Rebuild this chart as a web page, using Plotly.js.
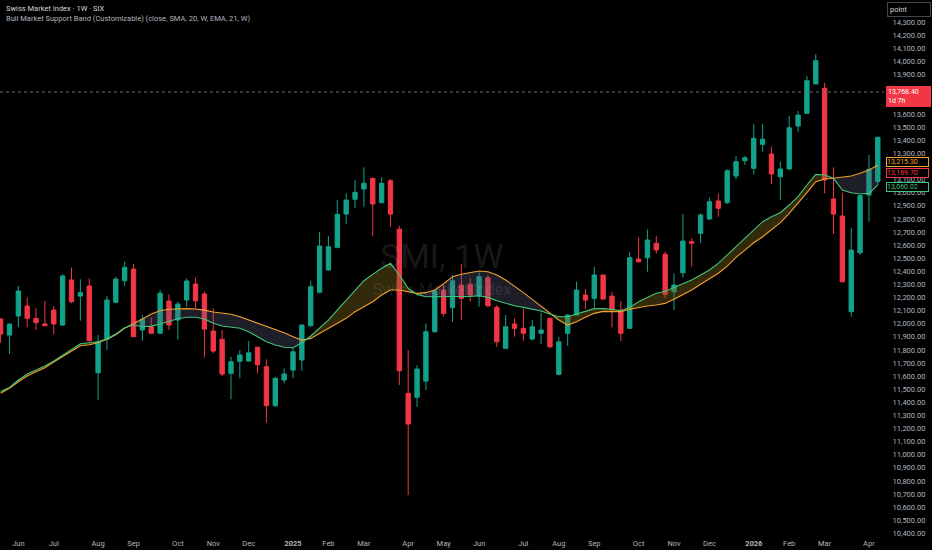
<!DOCTYPE html>
<html><head><meta charset="utf-8">
<script src="https://cdn.plot.ly/plotly-3.0.1.min.js"></script>
<style>html,body{margin:0;padding:0;background:#000;}#chart{width:932px;height:550px;}</style>
</head><body><div id="chart"></div>
<script>
// Weekly bars (Monday of each week)
const weeks = ['2024-05-20','2024-05-27','2024-06-03','2024-06-10','2024-06-17','2024-06-24','2024-07-01','2024-07-08','2024-07-15','2024-07-22','2024-07-29','2024-08-05','2024-08-12','2024-08-19','2024-08-26','2024-09-02','2024-09-09','2024-09-16','2024-09-23','2024-09-30','2024-10-07','2024-10-14','2024-10-21','2024-10-28','2024-11-04','2024-11-11','2024-11-18','2024-11-25','2024-12-02','2024-12-09','2024-12-16','2024-12-23','2024-12-30',
'2025-01-06','2025-01-13','2025-01-20','2025-01-27','2025-02-03','2025-02-10','2025-02-17','2025-02-24','2025-03-03','2025-03-10','2025-03-17','2025-03-24','2025-03-31','2025-04-07','2025-04-14','2025-04-21','2025-04-28','2025-05-05','2025-05-12','2025-05-19','2025-05-26','2025-06-02','2025-06-09','2025-06-16','2025-06-23','2025-06-30','2025-07-07','2025-07-14','2025-07-21','2025-07-28','2025-08-04','2025-08-11','2025-08-18','2025-08-25','2025-09-01','2025-09-08','2025-09-15','2025-09-22','2025-09-29','2025-10-06','2025-10-13','2025-10-20','2025-10-27','2025-11-03','2025-11-10','2025-11-17','2025-11-24','2025-12-01','2025-12-08','2025-12-15','2025-12-22','2025-12-29',
'2026-01-05','2026-01-12','2026-01-19','2026-01-26','2026-02-02','2026-02-09','2026-02-16','2026-02-23','2026-03-02','2026-03-09','2026-03-16','2026-03-23','2026-03-30','2026-04-06','2026-04-13'];

const open  = [12036,11913,12059,12135,12041,11998,12104,11990,12334,12211,12288,11626,11881,12163,12328,12417,11952,11977,11927,12173,12028,12181,12303,12227,11944,11881,11621,11713,11715,11820,11672,11374,11570,11646,11723,11985,12240,12410,12583,12837,12950,13028,13110,12924,13092,12721,11469,11438,11562,11939,12257,12122,12295,12301,12211,12351,12125,11812,11998,11965,11883,11927,12041,11614,11927,12066,12219,12194,12372,12211,12104,11965,12494,12504,12614,12530,12244,12389,12626,12690,12799,12937,12924,13127,13244,13186,13369,13295,13122,13181,13509,13606,13830,13797,12952,12822,12092,12542,12982,13084];
const high  = [12041,12005,12288,12198,12117,12175,12135,12379,12430,12339,12346,11914,12214,12359,12473,12456,12066,12046,12257,12224,12168,12346,12351,12244,12117,11952,11748,11799,11868,11824,11728,11595,11659,11822,11995,12328,12702,12669,12944,12995,13097,13194,13115,13118,13105,12746,11799,11685,12003,12257,12295,12372,12456,12346,12389,12372,12143,12066,12041,12117,12028,12084,12046,11901,12072,12321,12265,12435,12372,12244,12173,12545,12659,12720,12669,12550,12385,12837,12652,12843,12962,12995,13179,13280,13280,13524,13524,13351,13237,13585,13624,13891,14059,13840,13194,13000,12733,12977,13288,13423];
const low   = [11855,11769,11973,11973,11952,11982,11919,11982,12156,12023,11865,11417,11799,12156,12288,11900,11870,11921,11921,11952,11881,12130,12117,11743,11774,11600,11423,11583,11710,11621,11244,11366,11545,11585,11641,11977,12232,12405,12575,12759,12881,12893,12669,12919,12740,11532,10692,11366,11494,11931,12053,12015,12028,12168,12130,12125,11824,11812,11901,11870,11875,11845,11812,11606,11830,12066,12110,12110,12186,11972,11868,11965,12466,12397,12537,12194,12104,12354,12435,12618,12792,12817,12914,13102,13211,13140,13313,13066,12944,13179,13466,13606,13830,12995,12685,12320,12053,12524,12779,13059];
const close = [11921,11997,12250,12041,12008,11985,11998,12364,12168,12237,11870,11862,12181,12341,12430,11901,12034,11927,12232,11990,12150,12326,12175,11959,11791,11616,11710,11761,11778,11687,11374,11583,11616,11786,11990,12282,12593,12588,12835,12944,13003,13072,12914,13072,12837,11641,11234,11654,11939,12250,12079,12328,12194,12219,12359,12137,11862,11977,11965,11927,11977,11952,11824,11862,12066,12257,12181,12372,12188,12104,11927,12504,12473,12639,12563,12225,12295,12631,12614,12830,12931,12881,13168,13237,13267,13415,13408,13143,13181,13496,13593,13855,14008,13097,12837,12320,12562,12977,13179,13423];

// Bull Market Support Band: SMA 20 (orange) and EMA 21 (green)
const sma20 = [11470,11507,11557,11601,11633,11664,11708,11748,11789,11832,11840,11855,11881,11916,11965,11998,12036,12074,12099,12110,12115,12115,12112,12104,12089,12079,12072,12053,12028,12003,11977,11957,11931,11901,11875,11888,11926,11965,12003,12041,12092,12130,12168,12219,12257,12257,12244,12232,12237,12257,12305,12359,12377,12392,12402,12397,12372,12334,12288,12237,12186,12135,12079,12028,11990,12015,12049,12079,12094,12092,12092,12110,12125,12135,12143,12155,12186,12219,12257,12301,12341,12385,12440,12507,12562,12618,12664,12715,12771,12843,12919,13000,13084,13105,13110,13118,13127,13148,13173,13210];
const ema21 = [11482,11513,11570,11616,11646,11677,11715,11761,11804,11847,11855,11862,11885,11921,11969,11990,11977,11982,11998,12021,12038,12049,12049,12036,12003,11982,11975,11965,11939,11901,11862,11837,11820,11817,11855,11906,11965,12028,12104,12181,12257,12328,12377,12423,12461,12372,12270,12224,12206,12206,12206,12206,12206,12209,12214,12201,12175,12155,12137,12125,12110,12097,12074,12053,12053,12074,12099,12115,12115,12110,12099,12125,12168,12201,12232,12248,12278,12308,12334,12372,12410,12461,12524,12588,12652,12715,12779,12817,12847,12906,12970,13059,13140,13135,13110,13021,13000,12990,12995,13060];

// Time axis labels (first weekly bar of each month)
const monthTickDates = ['2024-06-03','2024-07-01','2024-08-05','2024-09-02','2024-10-07','2024-11-04','2024-12-02','2025-01-06','2025-02-03','2025-03-03','2025-04-07','2025-05-05','2025-06-02','2025-07-07','2025-08-04','2025-09-01','2025-10-06','2025-11-03','2025-12-01','2026-01-05','2026-02-02','2026-03-02','2026-04-06'];
const monthTickLabels = ['Jun','Jul','Aug','Sep','Oct','Nov','Dec','<b>2025</b>','Feb','Mar','Apr','May','Jun','Jul','Aug','Sep','Oct','Nov','Dec','<b>2026</b>','Feb','Mar','Apr'];

// Price scale labels that stay visible (the others sit under the price tags)
const priceTicks = [10400,10500,10600,10700,10800,10900,11000,11100,11200,11300,11400,11500,11600,11700,11800,11900,12000,12100,12200,12300,12400,12500,12600,12700,12800,12900,13000,13100,13300,13400,13500,13600,13900,14000,14100,14200,14300];

// Price-scale tags
const lastPrice = 13768.40;
const lastPriceCountdown = '1d 7h';
const smaLabel = 13215.30;
const barLabel = 13169.70;
const emaLabel = 13060.02;

const UP = '#12a38b', DOWN = '#f23645';
const SMA_C = '#f0a030', EMA_C = '#43c47c';
const BULL_FILL = 'rgba(125,105,25,0.40)', BEAR_FILL = 'rgba(95,100,130,0.30)';
const FONT = 'Roboto, "Noto Sans", sans-serif';

const xs = weeks.map(d => new Date(d + 'T00:00:00Z').getTime());
const WEEK = 7 * 864e5;

// Band fill split where the two averages cross
const fills = [];
let run = null;
function pushRun() {
  if (run && run.x.length > 1) {
    fills.push({type:'scatter', mode:'none', x: run.x.concat(run.x.slice().reverse()),
      y: run.a.concat(run.b.slice().reverse()), fill:'toself',
      fillcolor: run.bull ? BULL_FILL : BEAR_FILL, hoverinfo:'skip', showlegend:false});
  }
}
for (let i = 0; i < xs.length; i++) {
  const d = ema21[i] - sma20[i];
  const bull = d >= 0;
  if (!run) { run = {bull, x:[xs[i]], a:[ema21[i]], b:[sma20[i]]}; continue; }
  if (bull !== run.bull) {
    const dp = ema21[i-1] - sma20[i-1];
    const t = dp / (dp - d);
    const cx = xs[i-1] + t * (xs[i] - xs[i-1]);
    const cy = ema21[i-1] + t * (ema21[i] - ema21[i-1]);
    run.x.push(cx); run.a.push(cy); run.b.push(cy);
    pushRun();
    run = {bull, x:[cx], a:[cy], b:[cy]};
  }
  run.x.push(xs[i]); run.a.push(ema21[i]); run.b.push(sma20[i]);
}
pushRun();

const traces = fills.concat([
  {type:'scatter', mode:'lines', x: weeks, y: sma20, line:{color:SMA_C, width:1.1}, hoverinfo:'skip', showlegend:false},
  {type:'scatter', mode:'lines', x: weeks, y: ema21, line:{color:EMA_C, width:1.1}, hoverinfo:'skip', showlegend:false},
  {type:'candlestick', x: weeks, open, high, low, close,
    increasing:{line:{color:UP, width:1}, fillcolor:UP},
    decreasing:{line:{color:DOWN, width:1}, fillcolor:DOWN},
    whiskerwidth:0, hoverinfo:'skip', showlegend:false}
]);

const fmt = v => v.toLocaleString('en-US', {minimumFractionDigits:2, maximumFractionDigits:2});
function priceTag(y, text, bg, border, color, shift) {
  return {xref:'paper', yref:'y', x:1, y:y, xanchor:'left', yanchor:'middle', xshift:2, yshift:shift || 0,
    text:text, showarrow:false, align:'left', bgcolor:bg, bordercolor:border, borderwidth:1, borderpad:0,
    width:41, font:{family:FONT, size:7, color:color}};
}

const layout = {
  width:932, height:550,
  paper_bgcolor:'#000000', plot_bgcolor:'#000000',
  margin:{l:0, r:48, t:0, b:13},
  showlegend:false,
  xaxis:{type:'date', range:[xs[0] - 0.07*WEEK, xs[xs.length-1] + 0.7*WEEK],
    tickvals: monthTickDates, ticktext: monthTickLabels,
    showgrid:false, zeroline:false, showline:false, ticks:'',
    tickfont:{family:FONT, size:7.5, color:'#b2b5be'},
    rangeslider:{visible:false}, fixedrange:true},
  yaxis:{side:'right', range:[10372, 14471], tickmode:'array', tickvals: priceTicks, tickformat:',.2f',
    showgrid:false, zeroline:false, showline:false,
    ticks:'outside', ticklen:6, tickcolor:'rgba(0,0,0,0)',
    tickfont:{family:FONT, size:7.5, color:'#b2b5be'}, fixedrange:true},
  shapes:[
    {type:'line', xref:'paper', x0:0, x1:1, yref:'y', y0:lastPrice, y1:lastPrice,
     line:{color:'#6a6d78', width:1, dash:'dot'}}
  ],
  annotations:[
    {xref:'paper', yref:'paper', x:0, y:1, xanchor:'left', yanchor:'top', xshift:4, yshift:-2,
     text:'Swiss Market Index · 1W · SIX', showarrow:false, font:{family:FONT, size:7.5, color:'#d1d4dc'}},
    {xref:'paper', yref:'paper', x:0, y:1, xanchor:'left', yanchor:'top', xshift:4, yshift:-12,
     text:'Bull Market Support Band (Customizable) (close, SMA, 20, W, EMA, 21, W)', showarrow:false,
     font:{family:FONT, size:7.5, color:'#b2b5be'}},
    {xref:'paper', yref:'paper', x:0.5, y:0.5233, xanchor:'center', yanchor:'middle',
     text:'SMI, 1W', showarrow:false, font:{family:FONT, size:34, color:'rgba(255,255,255,0.11)'}},
    {xref:'paper', yref:'paper', x:0.5, y:0.4618, xanchor:'center', yanchor:'middle',
     text:'Swiss Market Index', showarrow:false, font:{family:FONT, size:16, color:'rgba(255,255,255,0.10)'}},
    {xref:'paper', yref:'paper', x:1, y:1, xanchor:'left', yanchor:'top', xshift:3, yshift:-2,
     text:'point', showarrow:false, align:'left', width:38, bgcolor:'#000000', bordercolor:'#434651',
     borderwidth:1, borderpad:2, font:{family:FONT, size:7.5, color:'#d1d4dc'}},
    Object.assign(priceTag(lastPrice, fmt(lastPrice) + '<br>' + lastPriceCountdown, DOWN, DOWN, '#ffffff'),
      {yanchor:'top', yshift:6, borderpad:1}),
    priceTag(smaLabel, fmt(smaLabel), '#000000', SMA_C, SMA_C, 2.5),
    priceTag(barLabel, fmt(barLabel), '#000000', DOWN, DOWN, -2.5),
    priceTag(emaLabel, fmt(emaLabel), '#000000', EMA_C, EMA_C, -2)
  ]
};

Plotly.newPlot('chart', traces, layout, {displayModeBar:false, staticPlot:true});
</script>
</body></html>
